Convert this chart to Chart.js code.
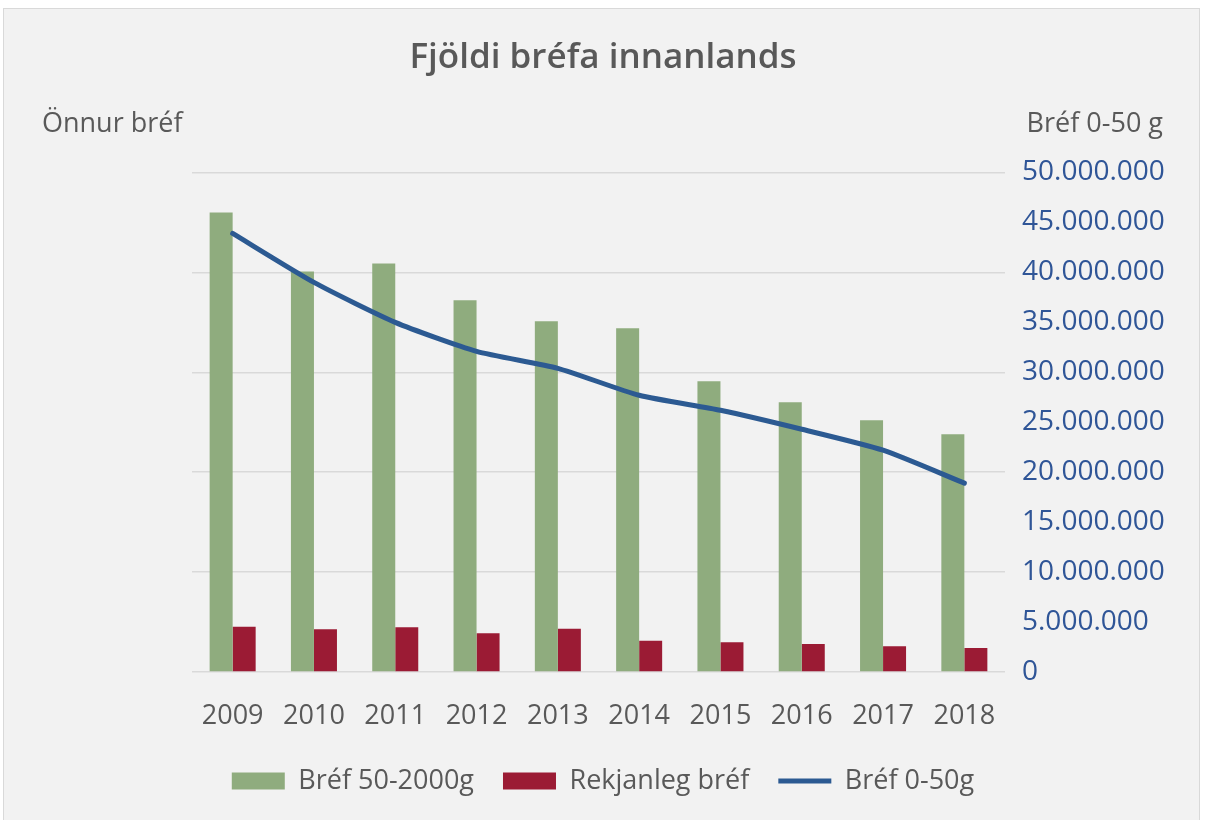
<!DOCTYPE html>
<html>
<head>
<meta charset="utf-8">
<script src="https://cdn.jsdelivr.net/npm/chart.js@4"></script>
<style>
  html, body { margin: 0; padding: 0; background: #fff; width: 1206px; height: 820px; overflow: hidden; }
  #frame { position: absolute; left: 3px; top: 8px; width: 1197px; height: 820px; background: #f2f2f2; border: 1px solid #d9d9d9; box-sizing: border-box; }
  #wrap { position: absolute; left: 0; top: 0; width: 1206px; height: 820px; }
</style>
</head>
<body>
<div id="frame"></div>
<div id="wrap"><canvas id="chart"></canvas></div>
<script>
const years = ['2009', '2010', '2011', '2012', '2013', '2014', '2015', '2016', '2017', '2018'];
const bref50to2000 = [4600000, 4010000, 4090000, 3720000, 3510000, 3440000, 2910000, 2700000, 2520000, 2380000];
const rekjanleg = [453000, 427000, 447000, 387000, 433000, 313000, 297000, 280000, 257000, 240000];
const bref0to50 = [43900000, 39000000, 35000000, 32100000, 30400000, 27700000, 26200000, 24300000, 22200000, 18900000];

const textGray = '#595959';
const font = '"Open Sans", "Noto Sans", sans-serif';

const dots = v => String(v).replace(/\B(?=(\d{3})+(?!\d))/g, '.');

// horizontal axis titles above each axis
const axisTitles = {
  id: 'axisTitles',
  afterDraw(chart) {
    const ctx = chart.ctx;
    ctx.save();
    ctx.font = '27px ' + font;
    ctx.fillStyle = textGray;
    ctx.textAlign = 'left';
    ctx.fillText('Önnur bréf', 42, 124);
    ctx.textAlign = 'right';
    ctx.fillText('Bréf 0-50 g', 1163, 124);
    ctx.restore();
  }
};

new Chart(document.getElementById('chart'), {
  type: 'bar',
  data: {
    labels: years,
    datasets: [{
      label: 'Bréf 50-2000g',
      data: bref50to2000,
      backgroundColor: '#8fac7e',
      yAxisID: 'y',
      pointStyle: 'rect',
      order: 1,
      categoryPercentage: 0.566,
      barPercentage: 1.0
    }, {
      label: 'Rekjanleg bréf',
      data: rekjanleg,
      backgroundColor: '#9b1b34',
      yAxisID: 'y',
      pointStyle: 'rect',
      order: 1,
      categoryPercentage: 0.566,
      barPercentage: 1.0
    }, {
      type: 'line',
      label: 'Bréf 0-50g',
      data: bref0to50,
      borderColor: '#2c5a92',
      backgroundColor: '#2c5a92',
      borderWidth: 5,
      borderCapStyle: 'round',
      pointRadius: 0,
      pointStyle: 'line',
      tension: 0.2,
      yAxisID: 'y2',
      order: 0
    }]
  },
  options: {
    responsive: true,
    maintainAspectRatio: false,
    animation: false,
    layout: { padding: { top: 0, right: 0, bottom: 15.5, left: 0 } },
    plugins: {
      title: {
        display: true,
        text: 'Fjöldi bréfa innanlands',
        color: textGray,
        font: { family: font, size: 35, weight: '600' },
        padding: { top: 37.5, bottom: 93 }
      },
      legend: {
        position: 'bottom',
        labels: {
          usePointStyle: true,
          pointStyleWidth: 53,
          boxHeight: 17,
          padding: 29,
          color: textGray,
          font: { family: font, size: 27 },
          sort: (a, b) => a.datasetIndex - b.datasetIndex
        }
      },
      tooltip: { enabled: false }
    },
    scales: {
      x: {
        grid: { display: false },
        border: { display: false },
        ticks: { color: textGray, font: { family: font, size: 27 }, padding: 20 },
        afterFit: s => { s.height = 66.5; }
      },
      y: {
        position: 'left',
        min: 0,
        max: 5000000,
        ticks: { display: false, stepSize: 1000000 },
        grid: { color: '#d9d9d9', lineWidth: 1.5, drawTicks: false },
        border: { display: false },
        afterFit: s => { s.width = 192; }
      },
      y2: {
        position: 'right',
        min: 0,
        max: 50000000,
        ticks: {
          stepSize: 5000000,
          color: '#2f5597',
          font: { family: font, size: 28 },
          padding: 17,
          callback: v => dots(v)
        },
        grid: { drawOnChartArea: false, drawTicks: false },
        border: { display: false },
        afterFit: s => { s.width = 201; }
      }
    }
  },
  plugins: [axisTitles]
});
</script>
</body>
</html>
